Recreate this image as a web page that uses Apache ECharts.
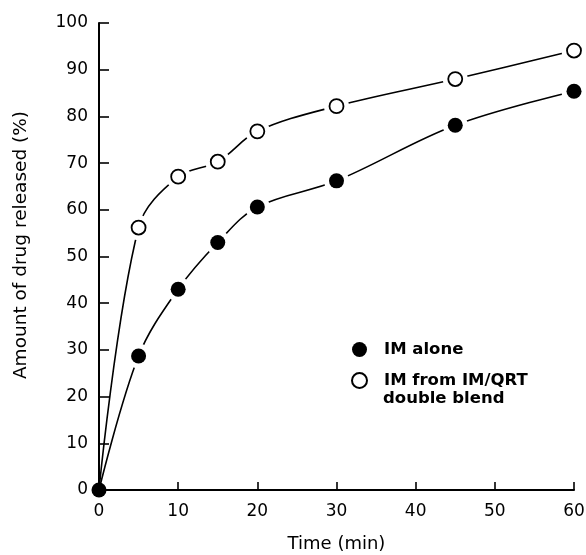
<!DOCTYPE html>
<html>
<head>
<meta charset="utf-8">
<script src="https://cdn.jsdelivr.net/npm/echarts@6/dist/echarts.min.js"></script>
<style>
  html, body { margin: 0; padding: 0; background: #fff; }
  #main { width: 586px; height: 555px; }
</style>
</head>
<body>
<div id="main"></div>
<script>
// time points (min)
const times = [0, 5, 10, 15, 20, 30, 45, 60];
// IM alone (filled)
const imAlone = [0, 28.7, 43.0, 53.0, 60.6, 66.2, 78.1, 85.4];
// IM from IM/QRT double blend (open)
const imBlend = [0, 56.2, 67.1, 70.3, 76.8, 82.2, 88.0, 94.1];
const yTicks = [0, 10, 20, 30, 40, 50, 60, 70, 80, 90, 100];
const xTicks = [0, 10, 20, 30, 40, 50, 60];

const nameAlone = 'IM alone';
const nameBlend = 'IM from IM/QRT';
const nameBlend2 = 'double blend';

const pairs = (ys) => times.map((t, i) => [t, ys[i]]);
const font = 'DejaVu Sans';

function curve(ys) {
  return {
    type: 'line',
    data: pairs(ys),
    smooth: 0.35,
    showSymbol: false,
    lineStyle: { color: '#000', width: 1.6 },
    z: 2,
    silent: true
  };
}

// white disks under the markers so each curve stops short of its points
function gaps(ys) {
  return {
    type: 'scatter',
    data: pairs(ys).slice(1),
    symbol: 'circle',
    symbolSize: 25,
    itemStyle: { color: '#fff', opacity: 1 },
    z: 3,
    silent: true
  };
}

const chart = echarts.init(document.getElementById('main'));
chart.setOption({
  animation: false,
  backgroundColor: '#fff',
  grid: { left: 99, right: 12, top: 23, bottom: 65, outerBoundsMode: 'none', containLabel: false },
  xAxis: {
    type: 'value',
    min: 0, max: 60, interval: 10,
    name: 'Time (min)',
    nameLocation: 'middle',
    nameGap: 45,
    nameTextStyle: { fontFamily: font, fontSize: 18, color: '#000' },
    axisLine: { lineStyle: { color: '#000', width: 2 } },
    axisTick: { inside: true, length: 8, lineStyle: { color: '#000', width: 1.6 } },
    axisLabel: { fontFamily: font, fontSize: 17, color: '#000', margin: 13,
      formatter: v => xTicks.includes(v) ? String(v) : '' },
    splitLine: { show: false }
  },
  yAxis: {
    type: 'value',
    min: 0, max: 100, interval: 10,
    name: 'Amount of drug released (%)',
    nameLocation: 'middle',
    nameGap: 68,
    nameTextStyle: { fontFamily: font, fontSize: 18.5, color: '#000', padding: [0, 0, 0, 23] },
    axisLine: { show: true, lineStyle: { color: '#000', width: 2 } },
    axisTick: { show: true, inside: true, length: 10, lineStyle: { color: '#000', width: 1.6 } },
    axisLabel: { fontFamily: font, fontSize: 17, color: '#000', margin: 11,
      formatter: v => yTicks.includes(v) ? String(v) : '' },
    splitLine: { show: false }
  },
  legend: {
    orient: 'vertical',
    left: 351,
    top: 341,
    itemGap: 14,
    itemWidth: 15,
    itemHeight: 15,
    padding: 0,
    textStyle: { fontFamily: font, fontSize: 16.5, fontWeight: 'bold', color: '#000',
      lineHeight: 15, padding: [0, 0, 0, 12] },
    data: [
      { name: nameAlone, icon: 'circle' },
      { name: nameBlend, icon: 'circle' }
    ],
    selectedMode: false
  },
  graphic: [{
    type: 'text',
    left: 383,
    top: 390,
    style: { text: nameBlend2, font: 'bold 16.5px "DejaVu Sans"', fill: '#000' }
  }],
  series: [
    curve(imAlone),
    curve(imBlend),
    gaps(imAlone),
    gaps(imBlend),
    {
      name: nameAlone,
      type: 'scatter',
      data: pairs(imAlone),
      symbol: 'circle',
      symbolSize: 15,
      itemStyle: { color: '#000', opacity: 1 },
      z: 5
    },
    {
      name: nameBlend,
      type: 'scatter',
      data: pairs(imBlend).slice(1),
      symbol: 'circle',
      symbolSize: 14,
      itemStyle: { color: '#fff', borderColor: '#000', borderWidth: 1.8, opacity: 1 },
      z: 4
    }
  ]
});
</script>
</body>
</html>
